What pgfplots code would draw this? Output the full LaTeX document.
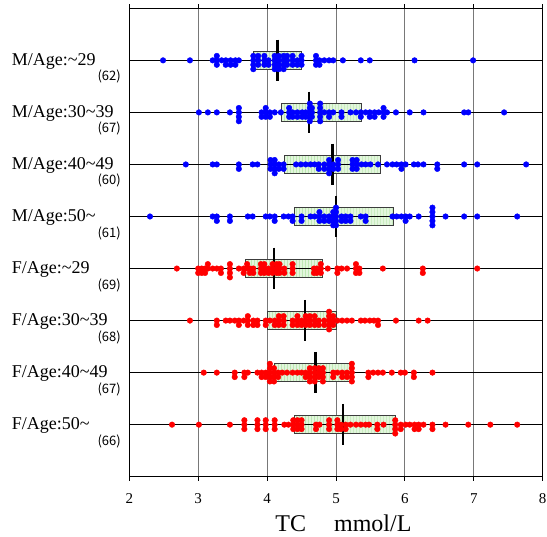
\documentclass[border=0pt]{standalone}
\usepackage{fontspec}
\setmainfont{Liberation Serif}
\newfontfamily\cntfont{Noto Sans CJK JP}
\usepackage{pgfplots}
\pgfplotsset{compat=1.18}
\usetikzlibrary{patterns}
\definecolor{boxfill}{RGB}{226,246,220}
\definecolor{boxline}{RGB}{190,232,180}
\definecolor{boxedge}{RGB}{60,60,60}
\definecolor{gridgray}{RGB}{120,120,120}
\newcommand{\lab}[2]{\parbox[t]{109bp}{\fontsize{18bp}{14bp}\selectfont\raggedright #1\\\hfill{\cntfont\fontsize{13bp}{13bp}\selectfont(#2)}}}
\pgfplotsset{
  bx/.style={draw=boxedge, line width=0.9bp, fill=boxfill, postaction={pattern=vertical lines, pattern color=boxline}},
  med/.style={black, line width=2.5bp},
  rowl/.style={black, line width=1bp},
  bdot/.style={only marks, mark=*, mark size=2.8bp, mark options={draw=blue, fill=blue}},
  rdot/.style={only marks, mark=*, mark size=2.8bp, mark options={draw=red, fill=red}},
}
\begin{document}
\begin{tikzpicture}
\useasboundingbox (0bp,0bp) rectangle (547bp,537bp);
\begin{axis}[
  at={(129.3bp,60.3bp)}, anchor=south west,
  scale only axis, width=413.4bp, height=468.4bp,
  xmin=2, xmax=8, ymin=0, ymax=9, y dir=reverse,
  xtick={2,3,4,5,6,7,8},
  ytick={1,2,3,4,5,6,7,8},
  yticklabels={
    {\lab{M/Age:\textasciitilde29}{62}},
    {\lab{M/Age:30\textasciitilde39}{67}},
    {\lab{M/Age:40\textasciitilde49}{60}},
    {\lab{M/Age:50\textasciitilde}{61}},
    {\lab{F/Age:\textasciitilde29}{69}},
    {\lab{F/Age:30\textasciitilde39}{68}},
    {\lab{F/Age:40\textasciitilde49}{67}},
    {\lab{F/Age:50\textasciitilde}{66}}},
  yticklabel style={anchor=base east, inner sep=0pt, xshift=-4.3bp, yshift=-5bp},
  ytick style={draw=none},
  xmajorgrids, x grid style={gridgray, line width=0.9bp},
  xtick style={black, line width=0.8bp},
  tick align=outside, major tick length=4bp,
  /pgf/number format/assume math mode=true,
  xticklabel style={font=\fontsize{15bp}{15bp}\selectfont, anchor=base, inner sep=0pt, yshift=-22.6bp},
  axis line style={black, line width=1.2bp},
  xlabel={TC\hspace{28bp}mmol/L},
  xlabel style={at={(axis description cs:0.518,0)}, anchor=base, yshift=-55bp, inner sep=0pt, font=\fontsize{24bp}{24bp}\selectfont},
  clip=false,
]
% boxes (Q1, Q3)
\addplot[bx] coordinates {(3.80,0.824)(4.50,0.824)(4.50,1.176)(3.80,1.176)} --cycle;
\addplot[bx] coordinates {(4.21,1.824)(5.37,1.824)(5.37,2.176)(4.21,2.176)} --cycle;
\addplot[bx] coordinates {(4.25,2.824)(5.65,2.824)(5.65,3.176)(4.25,3.176)} --cycle;
\addplot[bx] coordinates {(4.40,3.824)(5.83,3.824)(5.83,4.176)(4.40,4.176)} --cycle;
\addplot[bx] coordinates {(3.68,4.824)(4.80,4.824)(4.80,5.176)(3.68,5.176)} --cycle;
\addplot[bx] coordinates {(4.00,5.824)(5.00,5.824)(5.00,6.176)(4.00,6.176)} --cycle;
\addplot[bx] coordinates {(4.10,6.824)(5.23,6.824)(5.23,7.176)(4.10,7.176)} --cycle;
\addplot[bx] coordinates {(4.40,7.824)(5.87,7.824)(5.87,8.176)(4.40,8.176)} --cycle;
% row lines
\addplot[rowl] coordinates {(2,1)(8,1)};
\addplot[rowl] coordinates {(2,2)(8,2)};
\addplot[rowl] coordinates {(2,3)(8,3)};
\addplot[rowl] coordinates {(2,4)(8,4)};
\addplot[rowl] coordinates {(2,5)(8,5)};
\addplot[rowl] coordinates {(2,6)(8,6)};
\addplot[rowl] coordinates {(2,7)(8,7)};
\addplot[rowl] coordinates {(2,8)(8,8)};
% medians
\addplot[med] coordinates {(4.15,0.6)(4.15,1.4)};
\addplot[med] coordinates {(4.61,1.6)(4.61,2.4)};
\addplot[med] coordinates {(4.95,2.6)(4.95,3.4)};
\addplot[med] coordinates {(5.00,3.6)(5.00,4.4)};
\addplot[med] coordinates {(4.10,4.6)(4.10,5.4)};
\addplot[med] coordinates {(4.55,5.6)(4.55,6.4)};
\addplot[med] coordinates {(4.70,6.6)(4.70,7.4)};
\addplot[med] coordinates {(5.10,7.6)(5.10,8.4)};
% M/Age:~29
\addplot[bdot] coordinates {
(2.49,1)(2.88,1)(3.21,1)
(3.27,1)(3.27,1.085)(3.27,0.915)
(3.34,1)
(3.40,1)(3.40,1.085)
(3.47,1)(3.47,1.085)
(3.54,1)(3.54,1.085)
(3.59,1)
(3.80,1)(3.80,1.085)(3.80,0.915)(3.80,1.17)
(3.87,1)(3.87,1.085)(3.87,0.915)
(3.96,1)(3.96,1.085)(3.96,0.915)
(4.02,1)(4.02,1.085)
(4.11,1)(4.11,1.085)(4.11,0.915)(4.11,1.17)
(4.17,1)(4.17,1.085)(4.17,0.915)(4.17,1.17)
(4.24,1)(4.24,1.085)(4.24,0.915)(4.24,1.17)
(4.29,1)(4.29,1.085)(4.29,0.915)
(4.37,1)(4.37,1.085)(4.37,0.915)
(4.44,1)(4.44,1.085)
(4.50,1)(4.50,1.085)(4.50,0.915)
(4.71,1)(4.71,1.085)(4.71,0.915)
(4.76,1)(4.76,1.085)
(4.83,1)(4.90,1)(4.96,1)(5.10,1)(5.36,1)(5.49,1)(6.14,1)(6.99,1)
};
% M/Age:30~39
\addplot[bdot] coordinates {
(3.01,2)(3.14,2)(3.27,2)(3.46,2)
(3.59,2)(3.59,2.085)(3.59,1.915)(3.59,2.17)
(3.92,2)(3.92,2.085)
(3.98,2)(3.98,2.085)(3.98,1.915)
(4.04,2)(4.04,2.085)
(4.11,2)(4.20,2)
(4.32,2)(4.32,2.085)(4.32,1.915)
(4.37,2)(4.37,2.085)
(4.44,2)(4.44,2.085)
(4.51,2)(4.51,2.085)
(4.56,2)(4.56,2.085)
(4.62,2)(4.62,2.085)(4.62,1.915)(4.62,2.17)(4.62,1.83)
(4.65,2)(4.65,2.085)(4.65,1.915)
(4.77,2)(4.77,2.085)(4.77,1.915)(4.77,2.17)(4.77,1.83)
(4.83,2)
(4.90,2)(4.90,2.085)
(4.96,2)
(5.08,2)(5.08,2.085)
(5.21,2)(5.29,2)
(5.36,2)(5.36,2.085)
(5.43,2)
(5.49,2)(5.49,2.085)
(5.56,2)(5.56,2.085)
(5.62,2)
(5.69,2)(5.69,2.085)(5.69,1.915)
(5.74,2)(5.87,2)(6.07,2)(6.27,2)(6.86,2)(6.92,2)(7.44,2)
};
% M/Age:40~49
\addplot[bdot] coordinates {
(2.82,3)(3.21,3)(3.27,3)
(3.59,3)(3.59,3.085)
(3.79,3)(3.86,3)
(4.05,3)(4.05,3.085)(4.05,2.915)
(4.11,3)(4.11,3.085)(4.11,2.915)(4.11,3.17)
(4.17,3)(4.17,3.085)
(4.24,3)(4.24,3.085)
(4.42,3)(4.49,3)(4.56,3)(4.63,3)(4.69,3)
(4.75,3)(4.75,3.085)
(4.83,3)(4.83,3.085)
(4.90,3)(4.90,3.085)(4.90,2.915)(4.90,3.17)
(4.96,3)(4.96,3.085)
(5.03,3)(5.03,3.085)(5.03,2.915)
(5.24,3)(5.24,3.085)(5.24,2.915)
(5.30,3)(5.30,3.085)(5.30,2.915)
(5.37,3)(5.43,3)(5.50,3)(5.61,3)(5.74,3)(5.82,3)(5.88,3)
(5.95,3)(5.95,3.085)
(6.01,3)(6.13,3)(6.19,3)(6.27,3)
(6.47,3)(6.47,3.085)
(6.86,3)(7.05,3)(7.76,3)
};
% M/Age:50~
\addplot[bdot] coordinates {
(2.30,4)
(3.21,4)(3.27,4)(3.27,4.085)
(3.46,4)(3.46,4.085)
(3.72,4)(3.79,4)
(3.98,4)(4.04,4)(4.11,4)(4.11,4.085)
(4.24,4)(4.31,4)(4.37,4)(4.37,4.085)
(4.50,4)(4.50,4.085)
(4.63,4)(4.69,4)
(4.76,4)(4.76,4.085)(4.76,3.915)
(4.83,4)(4.83,4.085)
(4.90,4)(4.90,4.085)
(4.96,4)(4.96,4.085)(4.96,3.915)(4.96,4.17)
(5.00,4)(5.00,4.085)(5.00,3.915)(5.00,4.17)(5.00,3.83)
(5.08,4)(5.08,4.085)
(5.14,4)(5.14,4.085)
(5.21,4)(5.21,4.085)
(5.36,4)(5.43,4)(5.43,4.085)
(5.82,4)(5.88,4)(5.95,4)(6.01,4)(6.01,4.085)(6.07,4)
(6.20,4)
(6.40,4)(6.40,4.085)(6.40,3.915)(6.40,4.17)(6.40,3.83)
(6.59,4)(6.86,4)(7.05,4)(7.63,4)
};
% F/Age:~29
\addplot[rdot] coordinates {
(2.69,5)
(3.00,5)(3.00,5.085)
(3.05,5)(3.05,5.085)
(3.10,5)(3.10,5.085)
(3.14,5)(3.14,4.915)
(3.21,5)(3.27,5)
(3.33,5)(3.33,5.085)
(3.46,5)(3.46,5.085)(3.46,4.915)(3.46,5.17)
(3.59,5)
(3.66,5)(3.66,5.085)
(3.71,5)(3.71,4.915)
(3.75,5)(3.75,5.085)
(3.80,5)(3.80,5.085)
(3.91,5)(3.91,5.085)(3.91,4.915)
(3.96,5)(3.96,5.085)(3.96,4.915)
(4.02,5)(4.02,5.085)
(4.08,5)(4.08,5.085)(4.08,4.915)
(4.14,5)(4.14,5.085)(4.14,4.915)
(4.18,5)(4.18,5.085)(4.18,4.915)
(4.25,5)(4.25,5.085)
(4.37,5)(4.37,5.085)(4.37,4.915)
(4.68,5)(4.68,5.085)
(4.72,5)(4.72,5.085)
(4.78,5)(4.78,5.085)(4.78,4.915)
(4.88,5)
(5.02,5)(5.02,5.085)
(5.08,5)(5.16,5)
(5.29,5)(5.29,5.085)(5.29,4.915)
(5.34,5)(5.34,5.085)
(5.68,5)
(6.26,5)(6.26,5.085)
(7.05,5)
};
% F/Age:30~39
\addplot[rdot] coordinates {
(2.88,6)
(3.27,6)(3.27,6.085)
(3.40,6)(3.46,6)(3.53,6)
(3.59,6)(3.59,6.085)
(3.66,6)
(3.72,6)(3.72,6.085)(3.72,5.915)
(3.80,6)(3.80,6.085)
(3.86,6)(3.86,6.085)
(3.98,6)(3.98,6.085)
(4.04,6)
(4.11,6)(4.11,6.085)
(4.17,6)(4.17,6.085)(4.17,5.915)
(4.24,6)(4.24,6.085)(4.24,5.915)
(4.37,6)(4.37,6.085)
(4.44,6)(4.44,6.085)(4.44,5.915)
(4.50,6)(4.50,6.085)
(4.56,6)(4.56,6.085)(4.56,5.915)
(4.62,6)(4.62,6.085)(4.62,5.915)
(4.69,6)(4.69,6.085)(4.69,5.915)
(4.75,6)(4.75,6.085)
(4.83,6)(4.83,6.085)
(4.90,6)(4.90,6.085)(4.90,5.915)(4.90,6.17)(4.90,5.83)
(4.96,6)(4.96,6.085)(4.96,5.915)
(5.02,6)
(5.09,6)(5.16,6)(5.23,6)
(5.36,6)(5.42,6)(5.49,6)(5.55,6)
(5.61,6)(5.61,6.085)
(5.87,6)(6.20,6)(6.33,6)
};
% F/Age:40~49
\addplot[rdot] coordinates {
(3.08,7)(3.27,7)
(3.53,7)(3.53,7.085)
(3.67,7)(3.67,7.085)
(3.72,7)(3.86,7)
(3.92,7)(3.92,7.085)
(3.98,7)(3.98,7.085)
(4.04,7)(4.04,7.085)(4.04,6.915)(4.04,7.17)(4.04,6.83)
(4.10,7)(4.10,7.085)(4.10,6.915)(4.10,7.17)
(4.16,7)(4.16,7.085)
(4.22,7)(4.29,7)(4.37,7)(4.44,7)(4.50,7)
(4.56,7)(4.56,7.085)
(4.62,7)(4.62,7.085)(4.62,6.915)(4.62,7.17)
(4.69,7)(4.69,7.085)(4.69,6.915)(4.69,7.17)
(4.75,7)(4.75,7.085)(4.75,6.915)
(4.81,7)(4.81,7.085)(4.81,6.915)(4.81,7.17)
(4.96,7)(4.96,7.085)
(5.02,7)
(5.09,7)(5.09,7.085)
(5.16,7)(5.16,7.085)
(5.23,7)(5.23,7.085)(5.23,6.915)(5.23,7.17)(5.23,6.83)
(5.47,7)(5.47,7.085)
(5.54,7)(5.61,7)(5.68,7)(5.81,7)(5.94,7)(6.00,7)
(6.13,7)(6.13,7.085)
(6.40,7)
};
% F/Age:50~
\addplot[rdot] coordinates {
(2.62,8)(3.01,8)(3.46,8)
(3.67,8)(3.67,8.085)(3.67,7.915)
(3.86,8)(3.86,8.085)(3.86,7.915)
(3.98,8)(3.98,8.085)(3.98,7.915)
(4.11,8)(4.11,8.085)(4.11,7.915)
(4.25,8)(4.31,8)
(4.38,8)(4.38,8.085)(4.38,7.915)
(4.44,8)(4.44,8.085)(4.44,7.915)
(4.50,8)(4.50,8.085)(4.50,7.915)
(4.71,8)(4.71,8.085)
(4.76,8)
(4.90,8)(4.90,8.085)(4.90,7.915)
(5.02,8)(5.02,8.085)(5.02,7.915)
(5.07,8)(5.07,8.085)
(5.14,8)(5.14,8.085)
(5.21,8)(5.29,8)(5.36,8)(5.43,8)(5.48,8)
(5.60,8)(5.60,8.085)
(5.69,8)
(5.86,8)(5.86,8.085)(5.86,7.915)(5.86,8.17)
(5.94,8)(5.94,8.085)
(6.01,8)(6.07,8)
(6.14,8)(6.14,8.085)
(6.20,8)(6.20,8.085)
(6.27,8)
(6.40,8)(6.40,8.085)
(6.59,8)(6.92,8)(7.24,8)(7.63,8)
};
\end{axis}
\end{tikzpicture}
\end{document}
